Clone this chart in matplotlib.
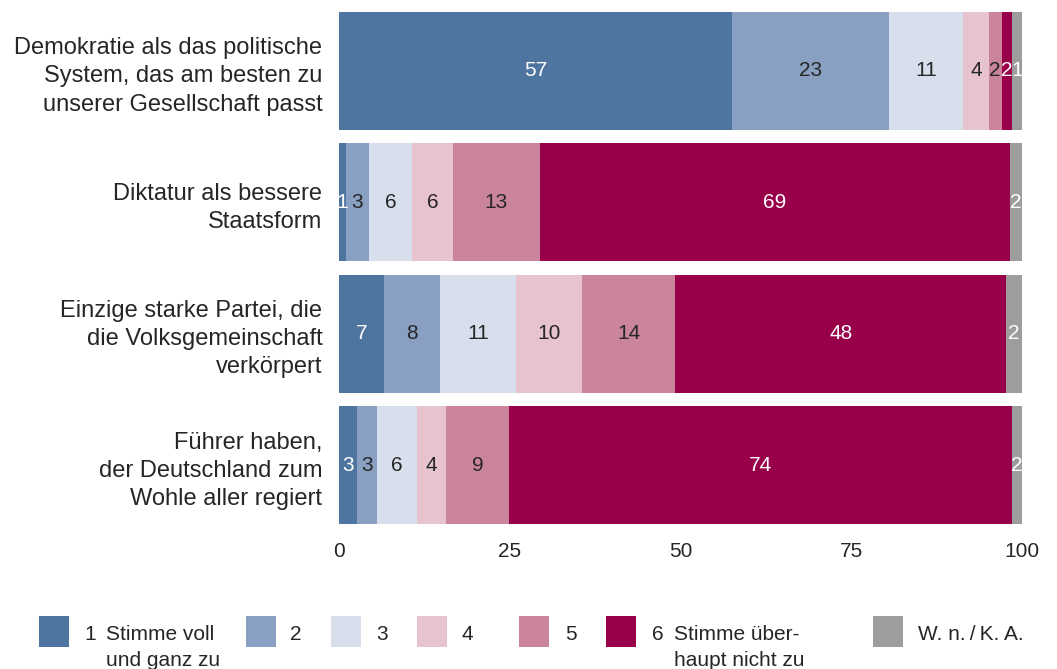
import matplotlib
matplotlib.use("Agg")
import matplotlib.pyplot as plt
from matplotlib.patches import Rectangle
import numpy as np

plt.rcParams['font.family'] = ['Liberation Sans', 'DejaVu Sans']

# ---------------- data ----------------
categories = [
    "Demokratie als das politische\nSystem, das am besten zu\nunserer Gesellschaft passt",
    "Diktatur als bessere\nStaatsform",
    "Einzige starke Partei, die\ndie Volksgemeinschaft\nverkörpert",
    "Führer haben,\nder Deutschland zum\nWohle aller regiert",
]
series_names = ["1", "2", "3", "4", "5", "6", "W. n.\u2009/\u2009K. A."]
series_desc = [["Stimme voll", "und ganz zu"], [], [], [], [],
               ["Stimme über-", "haupt nicht zu"], []]

# segment widths (percent)
s1 = [57.5, 1.0, 6.6, 2.6]
s2 = [23.0, 3.4, 8.2, 3.0]
s3 = [10.9, 6.3, 11.1, 5.8]
s4 = [3.7, 6.0, 9.7, 4.3]
s5 = [1.9, 12.7, 13.6, 9.2]
s6 = [1.6, 68.8, 48.5, 73.7]
s7 = [1.4, 1.8, 2.3, 1.4]

# printed labels
l1 = [57, 1, 7, 3]
l2 = [23, 3, 8, 3]
l3 = [11, 6, 11, 6]
l4 = [4, 6, 10, 4]
l5 = [2, 13, 14, 9]
l6 = [2, 69, 48, 74]
l7 = [1, 2, 2, 2]

xticks = [0, 25, 50, 75, 100]

colors = ["#4e74a0", "#8aa0c2", "#d8dfec", "#e7c3cf", "#ca859c", "#98004a", "#9d9d9d"]
label_colors = ["white", "#262626", "#262626", "#262626", "#262626", "white", "white"]

series = [s1, s2, s3, s4, s5, s6, s7]
labels = [l1, l2, l3, l4, l5, l6, l7]

W, H = 1057, 669
fig = plt.figure(figsize=(W / 100, H / 100), dpi=100)
ax_top, ax_bot = 5.25, 530.75
ax = fig.add_axes([339 / W, 1 - ax_bot / H, (1022 - 339) / W, (ax_bot - ax_top) / H])

y = np.arange(len(categories))
left = np.zeros(len(categories))
for vals, labs, c, lc in zip(series, labels, colors, label_colors):
    bars = ax.barh(y, vals, left=left, height=0.9, color=c, linewidth=0)
    ax.bar_label(bars, labels=[str(v) for v in labs], label_type='center',
                 color=lc, fontsize=15)
    left = left + np.array(vals)

ax.set_xlim(0, 100)
ax.set_ylim(len(categories) - 0.5, -0.5)
ax.set_xticks(xticks)
ax.set_xticklabels([str(t) for t in xticks], fontsize=15, color="#262626")
ax.set_yticks(y)
ax.set_yticklabels(categories, fontsize=17, color="#262626")
for t in ax.get_yticklabels():
    t.set_linespacing(1.36)
ax.tick_params(axis='x', length=0, pad=8)
ax.tick_params(axis='y', length=0, pad=12)
for s in ax.spines.values():
    s.set_visible(False)

# ---------------- legend (pixel layout) ----------------
lax = fig.add_axes([0, 0, 1, 1])
lax.set_xlim(0, W)
lax.set_ylim(H, 0)
lax.axis('off')
sq_x = [39, 246, 331, 417, 519, 606, 873]
num_x = [84, 290, 376, 462, 565, 652, 918]
desc_x = [106, None, None, None, None, 674, None]
for i in range(len(series_names)):
    lax.add_patch(Rectangle((sq_x[i], 616), 30, 31, color=colors[i], linewidth=0))
    lax.text(num_x[i], 640, series_names[i], fontsize=15, color="#262626", va='baseline', ha='left')
    for j, line in enumerate(series_desc[i]):
        lax.text(desc_x[i], 640 + 26.5 * j, line, fontsize=15, color="#262626",
                 va='baseline', ha='left')

fig.savefig("out.png", dpi=100)
